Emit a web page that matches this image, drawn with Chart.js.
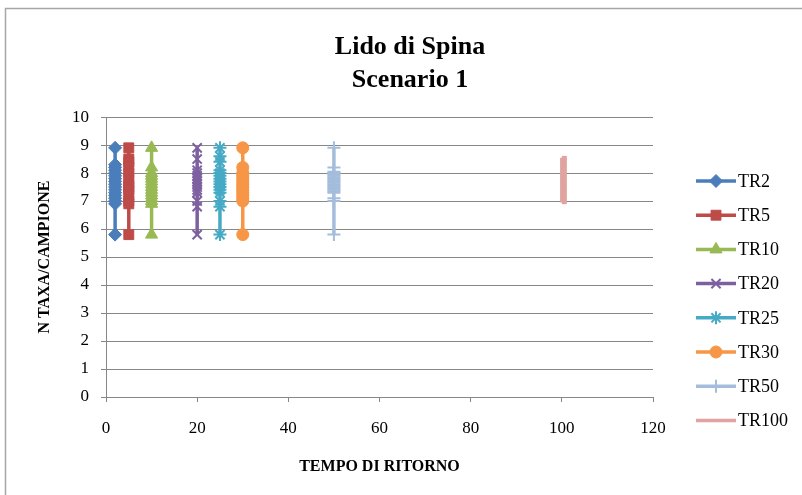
<!DOCTYPE html>
<html>
<head>
<meta charset="utf-8">
<script src="https://cdn.jsdelivr.net/npm/chart.js@4.4.1/dist/chart.umd.min.js"></script>
<style>
  html, body { margin: 0; padding: 0; background: #fff; overflow: hidden; }
  #wrap { width: 802px; height: 495px; }
</style>
</head>
<body>
<div id="wrap"><canvas id="grafico" width="802" height="495"></canvas></div>
<script>
// serie: tempo di ritorno e numero taxa per campione
const serieNomi = ["TR2", "TR5", "TR10", "TR20", "TR25", "TR30", "TR50", "TR100"];
const tempiRitorno = [2, 5, 10, 20, 25, 30, 50, 100];

const valTR2 = [8.9, 8.3, 8.2, 8.1, 8.0, 7.9, 7.8, 7.7, 7.6, 7.5, 7.4, 7.3, 7.2, 7.1, 7.0, 6.9, 5.8];
const valTR5 = [8.9, 8.5, 8.4, 8.2, 8.0, 7.8, 7.6, 7.5, 7.4, 7.2, 7.0, 6.9, 5.8];
const valTR10 = [8.9, 8.2, 8.0, 7.9, 7.8, 7.7, 7.6, 7.5, 7.4, 7.3, 7.2, 7.1, 7.0, 6.9, 5.8];
const valTR20 = [8.9, 8.5, 8.1, 8.0, 7.9, 7.8, 7.7, 7.6, 7.5, 7.4, 7.3, 7.0, 6.8, 5.8];
const valTR25 = [8.9, 8.6, 8.4, 8.1, 8.0, 7.9, 7.8, 7.7, 7.6, 7.5, 7.4, 7.3, 7.0, 6.8, 5.8];
const valTR30 = [8.9, 8.2, 8.0, 7.9, 7.8, 7.7, 7.6, 7.5, 7.4, 7.3, 7.2, 7.1, 7.0, 5.8];
const valTR50 = [8.9, 8.2, 8.05, 8.0, 7.95, 7.9, 7.85, 7.8, 7.75, 7.7, 7.65, 7.6, 7.55, 7.5, 7.45, 7.4, 7.35, 7.3, 7.1, 7.0, 5.8];
const valTR100 = [8.55, 8.45, 8.35, 8.25, 8.15, 8.05, 7.95, 7.85, 7.75, 7.65, 7.55, 7.45, 7.35, 7.25, 7.15, 7.05, 6.95];

const tickY = ["0", "1", "2", "3", "4", "5", "6", "7", "8", "9", "10"];
const tickX = ["0", "20", "40", "60", "80", "100", "120"];

const tuttiValori = [valTR2, valTR5, valTR10, valTR20, valTR25, valTR30, valTR50, valTR100];
const colori = ["#4a7ebb", "#be4b48", "#98b954", "#7d60a0", "#46aac5", "#f79646", "#a4bddc", "#e0a3a1"];
const marcatori = ["rectRot", "rect", "triangle", "crossRot", "star", "circle", "cross", "dash"];
const raggi = [6.5, 7, 7, 6.5, 6.5, 6, 6.5, 5];

const fontSerif = "'Liberation Serif', 'DejaVu Serif', serif";

let datasets = [];
for (let i = 0; i < serieNomi.length; i++) {
    let punti = tuttiValori[i].map(function(v) {
        return { x: tempiRitorno[i], y: v };
    });
    let aperto = marcatori[i] == "crossRot" || marcatori[i] == "star" || marcatori[i] == "cross";
    datasets.push({
        label: serieNomi[i],
        data: punti,
        showLine: true,
        borderColor: colori[i],
        backgroundColor: colori[i],
        borderWidth: 3.5,
        pointStyle: marcatori[i],
        pointRadius: raggi[i],
        pointBackgroundColor: colori[i],
        pointBorderColor: colori[i],
        pointBorderWidth: marcatori[i] == "dash" ? 3.5 : (aperto ? 2 : 1),
        order: serieNomi.length - i,
    });
}

// cornice grigia e legenda disegnata a mano (linea + marcatore)
const cornice = {
    id: "cornice",
    beforeDraw(chart) {
        const ctx = chart.ctx;
        ctx.save();
        ctx.fillStyle = "#fff";
        ctx.fillRect(0, 0, chart.width, chart.height);
        ctx.strokeStyle = "#a6a6a6";
        ctx.lineWidth = 1.5;
        ctx.strokeRect(5.5, 8.5, 900, 600);
        ctx.restore();
    },
    afterDraw(chart) {
        const ctx = chart.ctx;
        ctx.save();
        for (let i = 0; i < serieNomi.length; i++) {
            let y = 181 + i * 34.2;
            ctx.strokeStyle = colori[i];
            ctx.lineWidth = 3.5;
            ctx.beginPath();
            ctx.moveTo(696, y);
            ctx.lineTo(736, y);
            ctx.stroke();
            if (marcatori[i] != "dash" && Chart.helpers && Chart.helpers.drawPoint) {
                ctx.fillStyle = colori[i];
                ctx.lineWidth = datasets[i].pointBorderWidth;
                Chart.helpers.drawPoint(ctx, {
                    pointStyle: marcatori[i],
                    radius: raggi[i],
                    rotation: 0,
                    borderWidth: datasets[i].pointBorderWidth
                }, 716, y);
            }
            ctx.fillStyle = "#000";
            ctx.font = "18px " + fontSerif;
            ctx.textBaseline = "middle";
            ctx.textAlign = "left";
            ctx.fillText(serieNomi[i], 738, y + 1);
        }
        ctx.restore();
    }
};

const ctx = document.getElementById("grafico").getContext("2d");

new Chart(ctx, {
    type: "scatter",
    data: { datasets: datasets },
    plugins: [cornice],
    options: {
        responsive: false,
        animation: false,
        events: [],
        layout: { padding: { left: 18, right: 0, top: 0, bottom: 0 } },
        plugins: {
            legend: { display: false },
            tooltip: { enabled: false },
            title: {
                display: true,
                text: ["Lido di Spina", "Scenario 1"],
                color: "#000",
                font: { family: fontSerif, size: 26, weight: "bold", lineHeight: 1.27 },
                padding: { top: 31, bottom: 20 },
            },
        },
        scales: {
            x: {
                type: "linear",
                min: 0,
                max: 120,
                afterFit: function(scale) { scale.height = 98; },
                ticks: {
                    stepSize: 20,
                    color: "#000",
                    padding: 16,
                    maxRotation: 0,
                    font: { family: fontSerif, size: 17 },
                    callback: function(v) { return tickX[v / 20]; },
                },
                grid: { display: true, drawOnChartArea: false, drawTicks: true, tickLength: 5, color: "#878787" },
                border: { display: true, color: "#878787", width: 1 },
                title: {
                    display: true,
                    text: "TEMPO DI RITORNO",
                    color: "#000",
                    font: { family: fontSerif, size: 16, weight: "bold", lineHeight: 1.2 },
                    padding: { top: 0, bottom: 19 },
                },
            },
            y: {
                min: 0,
                max: 10,
                afterFit: function(scale) { scale.width = 88; },
                ticks: {
                    stepSize: 1,
                    color: "#000",
                    padding: 12,
                    font: { family: fontSerif, size: 17 },
                    callback: function(v) { return tickY[v]; },
                },
                grid: { color: "#878787", lineWidth: 1, tickLength: 5 },
                border: { display: true, color: "#878787", width: 1 },
                title: {
                    display: true,
                    text: "N TAXA/CAMPIONE",
                    color: "#000",
                    font: { family: fontSerif, size: 16, weight: "bold", lineHeight: 1.2 },
                    padding: { top: 17, bottom: 0 },
                },
            },
            // asse vuoto a destra: lascia lo spazio per la legenda
            spazio: {
                type: "linear",
                position: "right",
                display: true,
                afterFit: function(scale) { scale.width = 149; },
                ticks: { display: false },
                grid: { display: false },
                border: { display: false },
            },
        },
    },
});
</script>
</body>
</html>
